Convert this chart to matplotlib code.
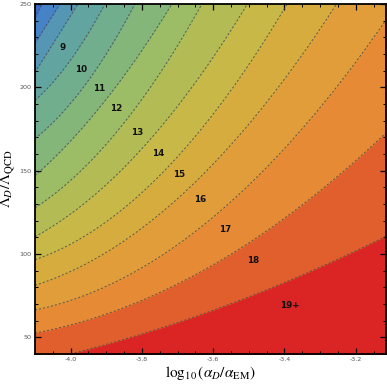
import numpy as np
import matplotlib
matplotlib.use("Agg")
import matplotlib.pyplot as plt
from matplotlib.ticker import MultipleLocator

# contour boundaries (x = log10(alpha_D/alpha_EM), y = Lambda_D/Lambda_QCD)
boundary_levels = [7, 8, 9, 10, 11, 12, 13, 14, 15, 16, 17, 18, 19]
boundary_x = [
    [-4.100, -4.0805],
    [-4.100, -4.030],
    [-4.100, -3.9795],
    [-4.100, -3.9964, -3.9038],
    [-4.100, -3.9459, -3.8196],
    [-4.100, -3.8982, -3.7159],
    [-4.100, -3.8449, -3.6317],
    [-4.100, -3.8337, -3.7860, -3.6850, -3.6093, -3.5055],
    [-4.100, -3.8337, -3.7271, -3.5532, -3.3989],
    [-4.100, -3.8337, -3.6654, -3.6093, -3.4213, -3.2643],
    [-4.100, -3.6036, -3.4774, -3.1156],
    [-4.100, -3.6093, -3.5279, -3.2446, -3.1156],
    [-4.0216, -3.6093, -3.4382, -3.1156],
]
boundary_y = [
    [241.6, 250.0],
    [226.5, 250.0],
    [209.0, 250.0],
    [192.2, 217.5, 250.0],
    [169.3, 205.4, 250.0],
    [147.0, 193.4, 250.0],
    [127.7, 180.1, 250.0],
    [110.2, 156.0, 166.9, 192.2, 214.5, 250.0],
    [95.8, 132.0, 154.2, 192.2, 250.0],
    [80.1, 112.0, 141.6, 153.0, 192.2, 250.0],
    [66.3, 122.3, 145.2, 240.4],
    [52.4, 92.2, 104.2, 145.2, 174.1],
    [39.2, 63.9, 81.3, 110.2],
]

# band labels
label_text = ["9", "10", "11", "12", "13", "14", "15", "16", "17", "18", "19+"]
label_x = [-4.0216, -3.9711, -3.9206, -3.8729, -3.8140, -3.7551, -3.6962, -3.6373, -3.5672, -3.4886, -3.3849]
label_y = [224.1, 210.8, 199.4, 187.3, 172.9, 160.2, 147.6, 132.5, 114.5, 96.4, 69.3]

# one colour per band: below 7, 7, 8, ... 18, 19+
band_colors = ["#3c6ccf", "#4682c6", "#5596b4", "#62a5a0", "#70ae8e", "#84b67a",
               "#9cbc66", "#b3bc54", "#c8b848", "#d6ac3f", "#e09d3a", "#e78a36",
               "#e15e2d", "#db2525"]

xmin, xmax = -4.1, -3.115
ymin, ymax = 40, 250

plt.rcParams["mathtext.fontset"] = "stix"
plt.rcParams["axes.unicode_minus"] = False

fig = plt.figure(figsize=(3.87, 3.86), dpi=100)
ax = fig.add_axes([0.0904, 0.0829, 0.907, 0.9067])

xg = np.linspace(xmin, xmax, 500)
ax.fill_between(xg, ymin, ymax, color=band_colors[0], lw=0)
curves = []
for i, (bx, by) in enumerate(zip(boundary_x, boundary_y)):
    deg = min(2, len(bx) - 1)
    coef = np.polyfit(bx, by, deg)
    yb = np.polyval(coef, xg)
    curves.append(yb)
    ax.fill_between(xg, ymin - 1, np.clip(yb, ymin - 1, ymax + 1),
                    color=band_colors[i + 1], lw=0)

for yb in curves:
    ax.plot(xg, yb, color="#4a4a4a", lw=0.7, dashes=(2.2, 2.0), alpha=0.85)

for t, lx, ly in zip(label_text, label_x, label_y):
    ax.text(lx, ly, t, ha="center", va="center", fontsize=6.3,
            fontweight="bold", color="#111111")

ax.set_xlim(xmin, xmax)
ax.set_ylim(ymin, ymax)

ax.xaxis.set_major_locator(MultipleLocator(0.2))
ax.xaxis.set_minor_locator(MultipleLocator(0.05))
ax.yaxis.set_major_locator(MultipleLocator(50))
ax.yaxis.set_minor_locator(MultipleLocator(10))
ax.tick_params(which="both", direction="in", top=True, right=True,
               labelsize=4.6, labelcolor="#555555", color="black", pad=2.5)
ax.tick_params(which="major", length=4, width=0.9)
ax.tick_params(which="minor", length=2.2, width=0.7)
for s in ax.spines.values():
    s.set_linewidth(1.3)

ax.set_xlabel(r"$\log_{10}(\alpha_D/\alpha_{\rm EM})$", fontsize=11, labelpad=1)
ax.set_ylabel(r"$\Lambda_D/\Lambda_{\rm QCD}$", fontsize=11)
ax.yaxis.set_label_coords(-0.048, 0.5)

fig.savefig("out.png", dpi=100)
